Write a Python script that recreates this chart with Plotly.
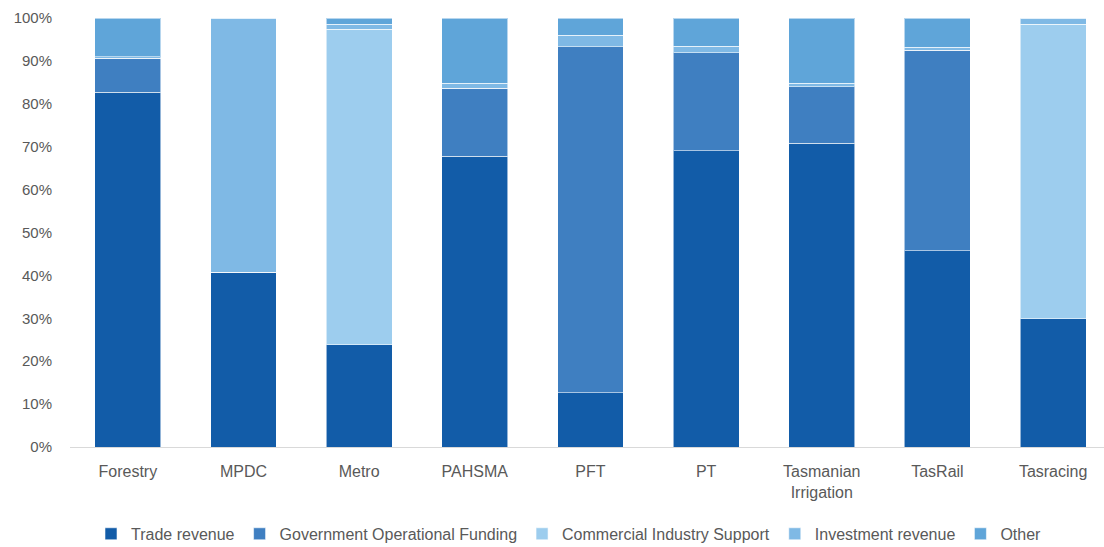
import plotly.graph_objects as go

categories = ["Forestry", "MPDC", "Metro", "PAHSMA", "PFT", "PT",
              "Tasmanian<br>Irrigation", "TasRail", "Tasracing"]

trade_revenue = [82.7, 40.7, 23.8, 67.8, 12.7, 69.0, 70.8, 45.8, 29.9]
gov_operational_funding = [7.9, 0.0, 0.0, 15.8, 80.6, 22.9, 13.2, 46.7, 0.0]
commercial_industry_support = [0.0, 0.0, 73.6, 0.0, 0.0, 0.0, 0.0, 0.0, 68.7]
investment_revenue = [0.4, 59.3, 1.2, 1.2, 2.7, 1.5, 0.8, 0.7, 1.4]
other = [9.0, 0.0, 1.4, 15.2, 4.0, 6.6, 15.2, 6.8, 0.0]

series = [
    ("Trade revenue", trade_revenue, "#125CA8"),
    ("Government Operational Funding", gov_operational_funding, "#3F7FC1"),
    ("Commercial Industry Support", commercial_industry_support, "#9DCDEE"),
    ("Investment revenue", investment_revenue, "#7FB9E5"),
    ("Other", other, "#5FA5D9"),
]

fig = go.Figure()
for name, vals, color in series:
    fig.add_trace(go.Bar(
        x=categories, y=vals, name=name,
        marker=dict(color=color, line=dict(color="rgba(255,255,255,0.55)", width=1)),
    ))

font_family = "Liberation Sans, Arial, sans-serif"
fig.update_layout(
    width=1104, height=547,
    barmode="stack",
    bargap=0.43,
    plot_bgcolor="white", paper_bgcolor="white",
    margin=dict(l=70, r=0, t=18, b=100, autoexpand=False),
    font=dict(family=font_family, size=15, color="#595959"),
    xaxis=dict(
        range=[-0.5, 8.44], automargin=False,
        showline=True, linecolor="#D9D9D9", linewidth=1,
        showgrid=False, ticks="outside", ticklen=10, tickcolor="rgba(0,0,0,0)",
        tickfont=dict(size=16, color="#595959"),
    ),
    yaxis=dict(
        range=[0, 100], dtick=10, ticksuffix="%", automargin=False,
        showgrid=False, zeroline=False, showline=False,
        ticks="outside", ticklen=14, tickcolor="rgba(0,0,0,0)",
        tickfont=dict(size=15, color="#595959"),
    ),
    legend=dict(
        orientation="h", x=0.4826, xanchor="center",
        yref="container", y=0.024, yanchor="middle",
        font=dict(size=16, color="#595959"), itemwidth=30,
        traceorder="normal",
    ),
)

fig.write_html("out.html")
